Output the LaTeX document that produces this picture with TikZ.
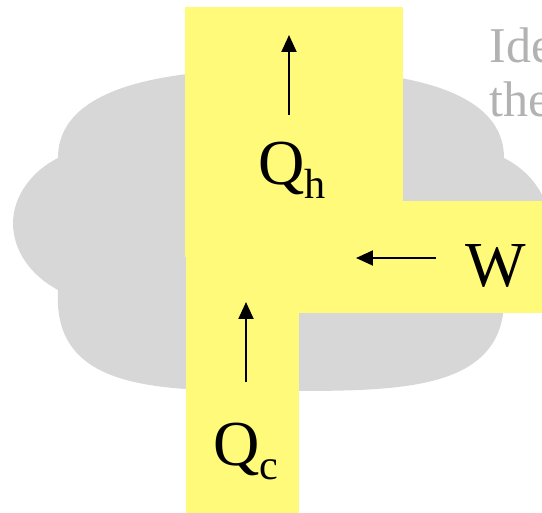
\documentclass[tikz,border=0pt]{standalone}
\usepackage{fontspec}
\setmainfont{Liberation Serif}
\usetikzlibrary{arrows.meta}

\definecolor{cloudgray}{RGB}{215,215,215}
\definecolor{padyellow}{RGB}{255,250,122}
\definecolor{notegray}{RGB}{178,178,178}

\tikzset{
  pad/.style={fill=padyellow, draw=none},
  qlabel/.style={inner sep=0, anchor=base west, font=\fontsize{36.5}{40}\selectfont},
  note/.style={inner sep=0, anchor=base west, text=notegray, font=\fontsize{28.5}{34}\selectfont},
  flow/.style={line width=1.1pt, -{Triangle[length=0.34cm, width=0.3cm]}}
}
\newcommand{\subtxt}[1]{\raisebox{-0.27cm}{\fontsize{24}{24}\selectfont #1}}

\begin{document}
\begin{tikzpicture}[x=0.02cm, y=-0.02cm]
\useasboundingbox (0, 0) rectangle (542, 513);
\clip (0, 0) rectangle (542, 513);

% cloud
\fill[cloudgray] (58, 158) .. controls (58, 85) and (170, 69) .. (281, 69)
  .. controls (392, 69) and (504, 85) .. (504, 158)
  .. controls (532, 172) and (549, 198) .. (549, 223)
  .. controls (549, 250) and (532, 275) .. (504, 290)
  .. controls (510, 392) and (402, 391) .. (281, 391)
  .. controls (160, 391) and (52, 392) .. (58, 290)
  .. controls (30, 275) and (13, 250) .. (13, 223)
  .. controls (13, 198) and (30, 172) .. (58, 158) -- cycle;

% yellow T
\fill[pad] (185, 7) rectangle (403, 257);
\fill[pad] (186, 257) rectangle (299, 513);
\fill[pad] (299, 201) rectangle (542, 313);

\node[note] (n1) at (489, 63) {Ide};
\node[note] (n2) at (489, 117) {the};

\node[qlabel] (qh) at (258, 185) {Q\subtxt{h}};
\node[qlabel] (qc) at (213, 466) {Q\subtxt{c}};
\node[qlabel] (w) at (465, 287) {W};

\coordinate (qh0) at (289, 115);
\coordinate (qh1) at (289, 35);
\coordinate (qc0) at (246, 382);
\coordinate (qc1) at (246, 302);
\coordinate (w0) at (436, 258);
\coordinate (w1) at (356, 258);

\draw[flow] (qh0) -- (qh1);
\draw[flow] (qc0) -- (qc1);
\draw[flow] (w0) -- (w1);

\end{tikzpicture}
\end{document}
